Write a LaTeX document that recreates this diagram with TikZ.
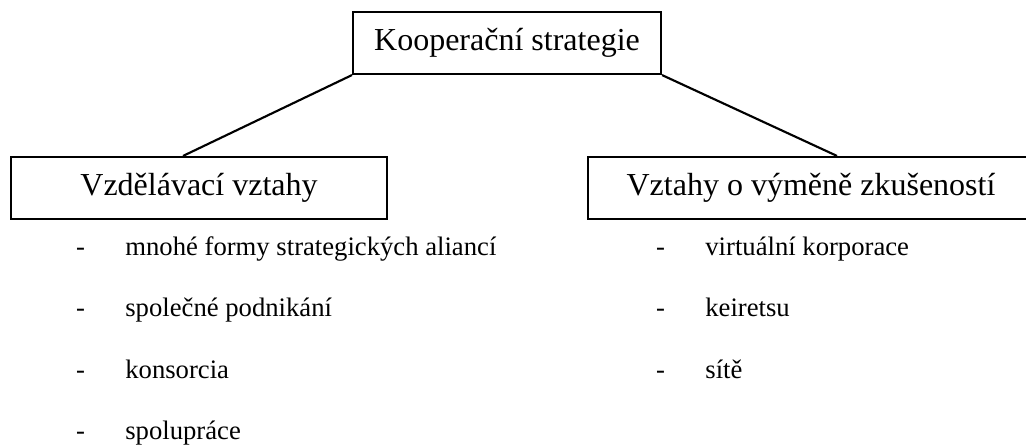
\documentclass[tikz,border=0pt]{standalone}
\usepackage{fontspec}
\setmainfont{Liberation Serif}
\usepackage{tikz}

\newcommand{\itemdash}{\hbox to 18.5pt{-\hfil}}

\begin{document}
\begin{tikzpicture}[x=0.375pt,y=-0.375pt,line width=0.8pt,
		main box/.style={rectangle,draw,inner sep=0pt,minimum height=23.25pt,font=\fontsize{12}{14}\selectfont},
		list item/.style={anchor=base west,inner sep=0pt,font=\fontsize{10}{12}\selectfont}]
		\useasboundingbox (0,0) rectangle (1026,446);
		\node[main box,minimum width=115.5pt] (koop) at (507,43) {Kooperační strategie};
		\node[main box,minimum width=141pt] (vzd) at (199,188) {Vzdělávací vztahy};
		\node[main box,minimum width=167.25pt] (vym) at (811,188) {Vztahy o výměně zkušeností};

		% left list
		\node[list item] (vzd1) at (75,255) {\itemdash mnohé formy strategických aliancí};
		\node[list item] (vzd2) at (75,316.5) {\itemdash společné podnikání};
		\node[list item] (vzd3) at (75,378) {\itemdash konsorcia};
		\node[list item] (vzd4) at (75,439.5) {\itemdash spolupráce};

		% right list
		\node[list item] (vym1) at (655,255) {\itemdash virtuální korporace};
		\node[list item] (vym2) at (655,316.5) {\itemdash keiretsu};
		\node[list item] (vym3) at (655,378) {\itemdash sítě};

		\path
		(koop.south west) edge ([xshift=-6pt]vzd.north)
		(koop.south east) edge ([xshift=9.75pt]vym.north);
\end{tikzpicture}
\end{document}
